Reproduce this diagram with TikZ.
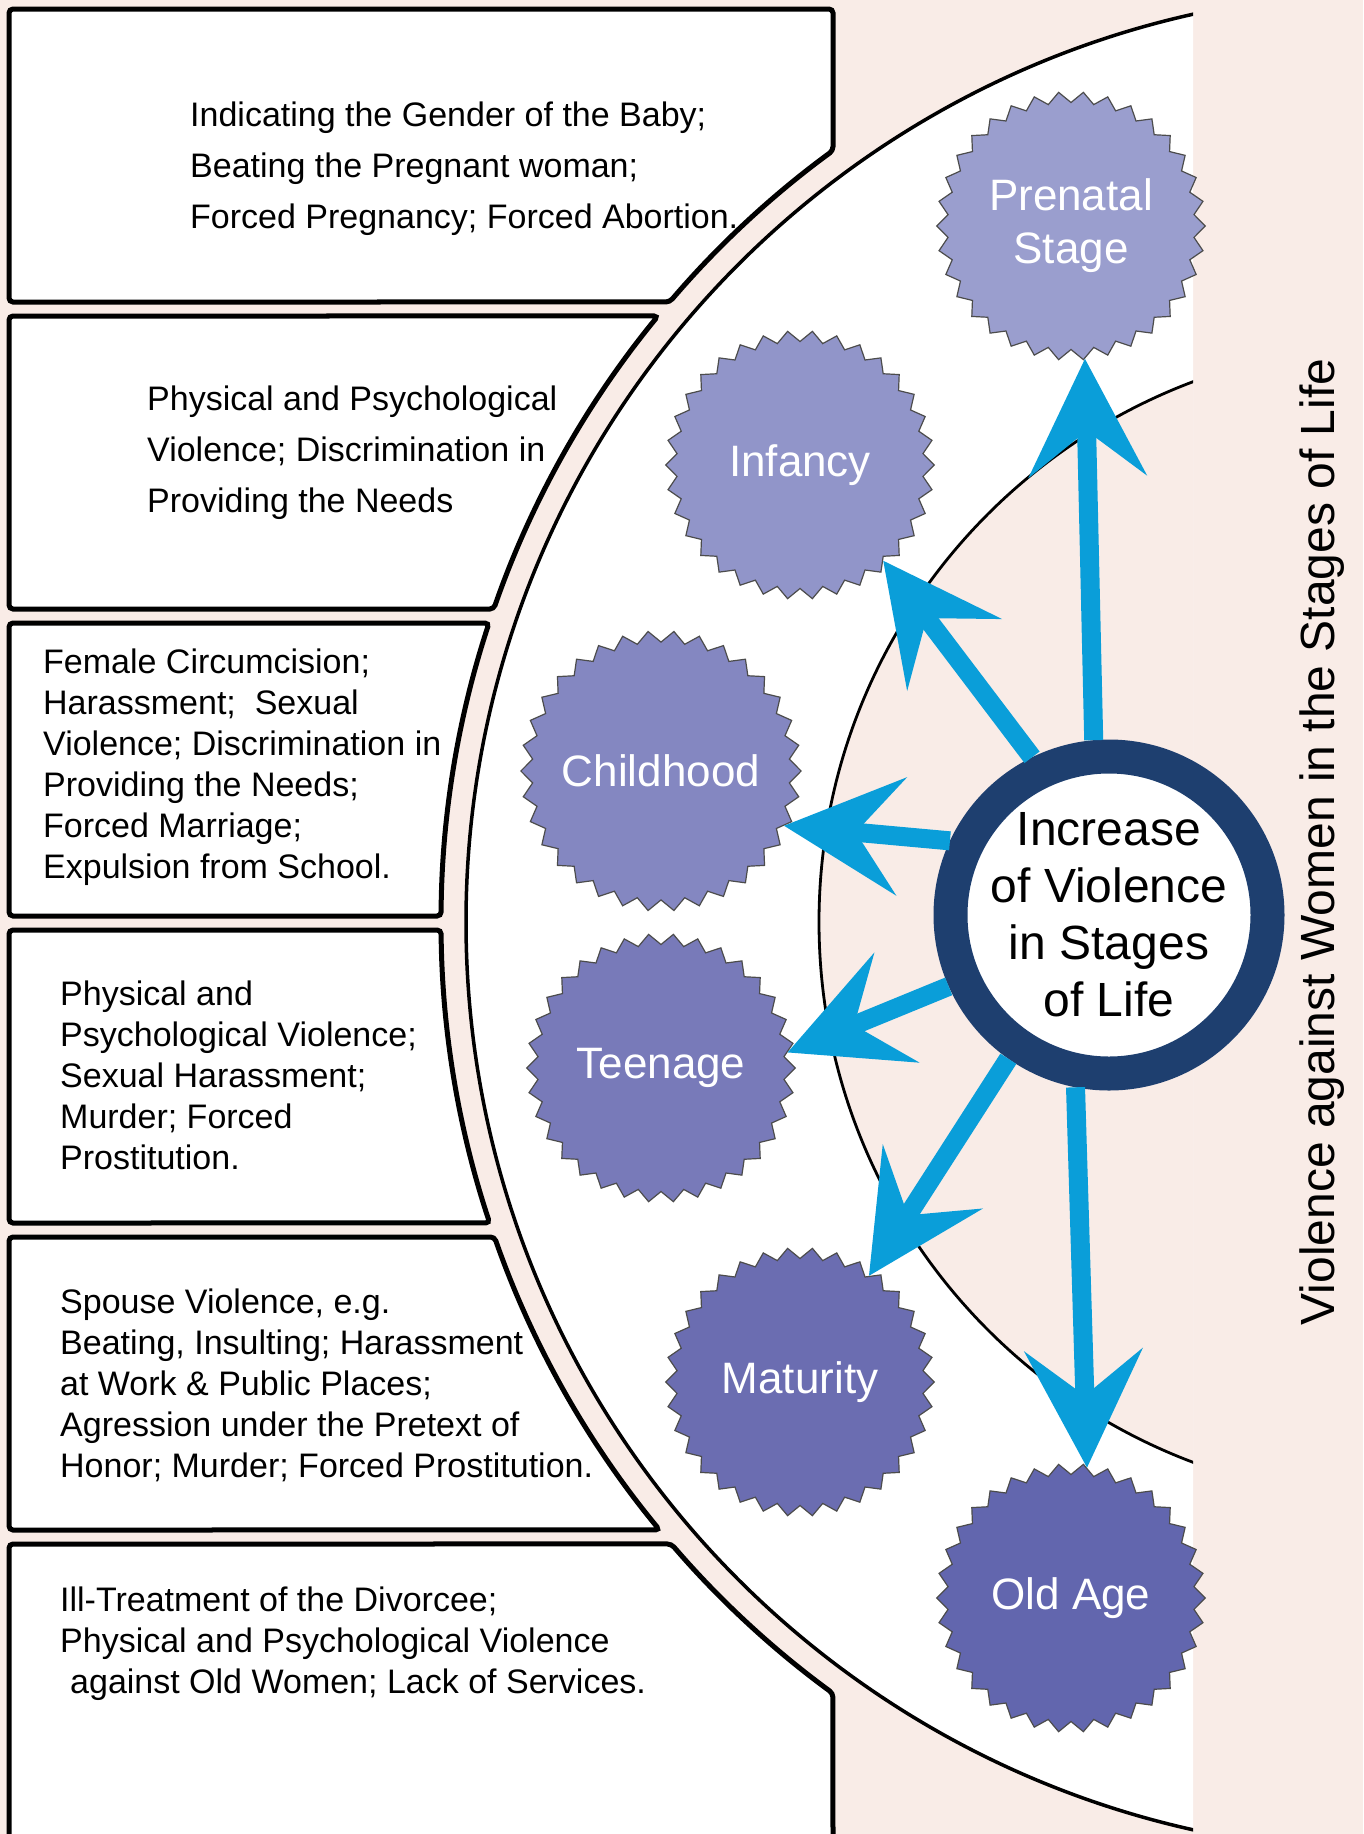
\documentclass[tikz,border=0pt]{standalone}
\usepackage{fontspec}
\setmainfont{Liberation Sans}
\usetikzlibrary{arrows.meta,shapes.geometric}
\definecolor{bgpink}{HTML}{F9ECE7}
\definecolor{arrowblue}{HTML}{0A9ED9}
\definecolor{ringnavy}{HTML}{1E3F6F}
\definecolor{sA}{HTML}{9A9ECE}
\definecolor{sB}{HTML}{9195C9}
\definecolor{sC}{HTML}{8487C1}
\definecolor{sD}{HTML}{787AB9}
\definecolor{sE}{HTML}{6B6DB1}
\definecolor{sF}{HTML}{6266AE}
\begin{document}
\begin{tikzpicture}[x=1pt,y=1pt,
  boxline/.style={line width=5pt, rounded corners=4pt, fill=white, draw=black},
  boxtext/.style={anchor=west, align=left, inner sep=0pt, font=\fontsize{34}{41}\selectfont},
  stage/.style={star, star points=34, star point ratio=0.92, minimum size=247pt, inner sep=0pt,
    draw=black!70, line width=1.2pt, text=white, align=center, font=\fontsize{44}{53}\selectfont},
  blarrow/.style={draw=arrowblue, line width=19pt, -{Stealth[length=117pt,width=117pt,inset=45pt]}},
]
\useasboundingbox (0,0) rectangle (1363,-1834);
\clip (0,0) rectangle (1363,-1834);
\fill[bgpink] (0,0) rectangle (1363,-1834);
\begin{scope}
  \clip (0,0) rectangle (1193,-1834);
  \fill[white] (1396,-922) circle[radius=930pt];
  \fill[bgpink] (1396,-922) circle[radius=577pt];
  \draw[line width=3.5pt] (1396,-922) circle[radius=930pt];
  \draw[line width=2.8pt] (1396,-922) circle[radius=577pt];
\end{scope}
% boxes
\draw[boxline] (9,-9) -- (833,-9) -- (833,-150.6) arc[start angle=126.13, end angle=139.52, radius=955pt] -- (9,-302) -- cycle;
\draw[boxline] (9,-316) -- ([shift={(1396,-922)}]140.61:955) arc[start angle=140.61, end angle=160.87, radius=955pt] -- (9,-609) -- cycle;
\draw[boxline] (9,-623) -- ([shift={(1396,-922)}]161.755:955) arc[start angle=161.755, end angle=179.64, radius=955pt] -- (9,-916) -- cycle;
\draw[boxline] (9,-930) -- ([shift={(1396,-922)}]180.48:955) arc[start angle=180.48, end angle=198.37, radius=955pt] -- (9,-1223) -- cycle;
\draw[boxline] (9,-1237) -- ([shift={(1396,-922)}]199.26:955) arc[start angle=199.26, end angle=219.54, radius=955pt] -- (9,-1530) -- cycle;
\draw[boxline] (9,-1544) -- ([shift={(1396,-922)}]220.64:955) arc[start angle=220.64, end angle=233.87, radius=955pt] -- (833,-1850) -- (9,-1850) -- cycle;
% box texts
\node[boxtext, font=\fontsize{34}{51}\selectfont] (t1) at (190,-169) {Indicating the Gender of the Baby;\\Beating the Pregnant woman;\\Forced Pregnancy; Forced Abortion.};
\node[boxtext, font=\fontsize{34}{51}\selectfont] (t2) at (147,-453) {Physical and Psychological\\Violence; Discrimination in\\Providing the Needs};
\node[boxtext] (t3) at (43,-767) {Female Circumcision;\\Harassment;\ \ Sexual\\Violence; Discrimination in\\Providing the Needs;\\Forced Marriage;\\Expulsion from School.};
\node[boxtext] (t4) at (60,-1075) {Physical and\\Psychological Violence;\\Sexual Harassment;\\Murder; Forced\\Prostitution.};
\node[boxtext] (t5) at (60,-1385) {Spouse Violence, e.g.\\Beating, Insulting; Harassment\\at Work \& Public Places;\\Agression under the Pretext of\\Honor; Murder; Forced Prostitution.};
\node[boxtext] (t6) at (60,-1644) {Ill-Treatment of the Divorcee;\\Physical and Psychological Violence\\\hspace*{10pt}against Old Women; Lack of Services.};
% stages
\node[stage, fill=sA] (pre) at (1071,-226) {Prenatal\\Stage};
\node[stage, fill=sB] (inf) at (800,-465) {Infancy};
\node[stage, fill=sC] (chi) at (661,-771) {Childhood};
\node[stage, fill=sD] (tee) at (661,-1068) {Teenage};
\node[stage, fill=sE] (mat) at (800,-1382) {Maturity};
\node[stage, fill=sF] (old) at (1071,-1598) {Old Age};
% center
\node[circle, fill=white, draw=ringnavy, line width=34pt, minimum size=317pt, inner sep=0pt, align=center,
  font=\fontsize{48}{57}\selectfont] (ctr) at (1109,-915) {Increase\\of Violence\\in Stages\\of Life};
% arrows
\draw[blarrow] (ctr.95) -- (pre.-84);
\draw[blarrow] (ctr.116) -- (inf.-49);
\draw[blarrow] (ctr.155) -- (chi.-24);
\draw[blarrow] (ctr.204) -- (tee.7);
\draw[blarrow] (ctr.235) -- (mat.57);
\draw[blarrow] (ctr.259) -- (old.83);
% side title
\node[rotate=90, font=\fontsize{48}{48}\selectfont] (title) at (1322,-842) {Violence against Women in the Stages of Life};
\end{tikzpicture}
\end{document}
